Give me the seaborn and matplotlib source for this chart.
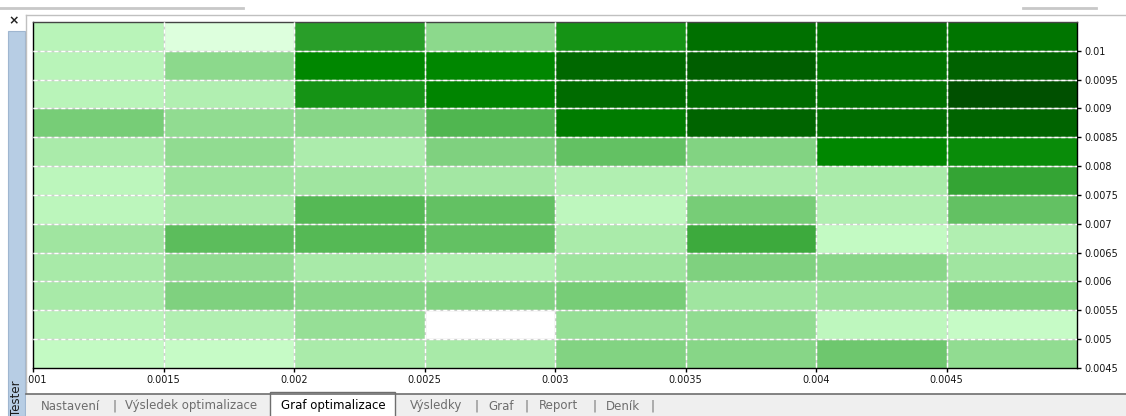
import numpy as np
import pandas as pd
import matplotlib
matplotlib.use("Agg")
import matplotlib.pyplot as plt
import seaborn as sns
from matplotlib.colors import LinearSegmentedColormap
from matplotlib.patches import Rectangle

# ---- data ------------------------------------------------------------------
x_labels = ["0.001", "0.0015", "0.002", "0.0025", "0.003", "0.0035", "0.004", "0.0045"]
y_labels = ["0.01", "0.0095", "0.009", "0.0085", "0.008", "0.0075", "0.007",
            "0.0065", "0.006", "0.0055", "0.005", "0.0045"]   # lower edge of each row, top->bottom

# result intensity of each cell (0 = worst / white, 100 = best / darkest green), top row first
row_0105 = [24, 10, 71, 42, 75, 89, 88, 87]
row_0100 = [24, 42, 80, 80, 92, 95, 88, 94]
row_0095 = [24, 27, 75, 81, 91, 91, 89, 100]
row_0090 = [50, 40, 44, 61, 84, 93, 90, 93]
row_0085 = [30, 40, 29, 47, 56, 46, 80, 78]
row_0080 = [23, 35, 34, 33, 27, 30, 30, 68]
row_0075 = [23, 31, 60, 56, 22, 50, 27, 56]
row_0070 = [34, 58, 60, 56, 30, 66, 20, 27]
row_0065 = [31, 40, 31, 27, 35, 47, 43, 34]
row_0060 = [31, 47, 44, 46, 50, 34, 36, 47]
row_0055 = [24, 27, 38, 0, 38, 40, 22, 19]
row_0050 = [20, 19, 30, 31, 46, 44, 53, 40]

values = [row_0105, row_0100, row_0095, row_0090, row_0085, row_0080,
          row_0075, row_0070, row_0065, row_0060, row_0055, row_0050]
df = pd.DataFrame(values, index=range(len(values)), columns=x_labels)

# MetaTrader-like white -> dark green gradient
cmap = LinearSegmentedColormap.from_list("mt_green", [
    (0.0, "#ffffff"), (0.1, "#dcffdc"), (0.2, "#c3fac3"), (0.3, "#aaebaa"),
    (0.4, "#91dc91"), (0.5, "#78cd78"), (0.6, "#55b955"), (0.7, "#2da02d"),
    (0.8, "#008700"), (0.9, "#006e00"), (1.0, "#005000")])

# ---- figure ----------------------------------------------------------------
fig = plt.figure(figsize=(11.26, 4.16), dpi=100)
fig.patch.set_facecolor("white")
W, H = 1126, 416

def px(x0, y0, w, h):
    return [x0 / W, 1 - (y0 + h) / H, w / W, h / H]

ax = fig.add_axes(px(33, 22, 1044, 346))
sns.heatmap(df, ax=ax, cmap=cmap, vmin=0, vmax=100, cbar=False,
            xticklabels=False, yticklabels=False)

nrows, ncols = df.shape
# dashed grid on the cell borders
ax.hlines(range(1, nrows), 0, ncols, colors="#cfcfcf", lw=1, zorder=3)
ax.hlines(range(1, nrows), 0, ncols, colors="white", lw=1, linestyles=(0, (3, 2)), zorder=4)
ax.vlines(range(1, ncols), 0, nrows, colors="#cfcfcf", lw=1, zorder=3)
ax.vlines(range(1, ncols), 0, nrows, colors="white", lw=1, linestyles=(0, (3, 2)), zorder=4)

ax.set_xticks(range(ncols))
ax.set_xticklabels(x_labels)
ax.yaxis.tick_right()
ax.set_yticks(range(1, nrows + 1))
ax.set_yticklabels(y_labels)
ax.tick_params(axis="both", labelsize=7, colors="black", labelcolor="#151515",
               length=3, width=1, pad=2, direction="out")
ax.tick_params(axis="x", labelrotation=0)
ax.tick_params(axis="y", labelrotation=0)
ax.set_xlabel("")
ax.set_ylabel("")
for side, sp in ax.spines.items():
    sp.set_visible(True)
    sp.set_color("#000000" if side != "top" else "#444444")
    sp.set_linewidth(1)

# ---- window chrome -----------------------------------------------------------
chrome = fig.add_axes([0, 0, 1, 1], zorder=10)
chrome.set_xlim(0, W)
chrome.set_ylim(H, 0)
chrome.axis("off")
chrome.patch.set_alpha(0)

# top separators
chrome.plot([0, 243], [8, 8], color="#c8c8c8", lw=2)
chrome.plot([1023, 1096], [8, 8], color="#c8c8c8", lw=2)
chrome.plot([26, W], [15, 15], color="#c0c0c0", lw=1)
chrome.plot([26, 26], [15, 393], color="#c0c0c0", lw=1)
chrome.text(14, 21, "×", ha="center", va="center", fontsize=9, fontweight="bold", color="#202020")

# left side bar with "Tester"
chrome.add_patch(Rectangle((8, 31), 17, H - 31, facecolor="#b7cde4", edgecolor="#9fb6d0", lw=0.8))
chrome.text(16.5, 398, "Tester", rotation=90, ha="center", va="center", fontsize=8.5, color="#1a1a1a")

# bottom tab bar
chrome.add_patch(Rectangle((26, 394), W - 26, 22, facecolor="#efefef", edgecolor="none"))
chrome.plot([26, W], [394, 394], color="#6e6e6e", lw=1.2)
chrome.add_patch(Rectangle((270, 392), 125, 26, facecolor="white", edgecolor="#6e6e6e", lw=1))
tabs = [("Nastavení", 71, "#6d6d6d"), ("|", 115, "#6d6d6d"),
        ("Výsledek optimalizace", 191, "#6d6d6d"), ("Graf optimalizace", 333, "#000000"),
        ("Výsledky", 436, "#6d6d6d"), ("|", 476, "#6d6d6d"), ("Graf", 501, "#6d6d6d"),
        ("|", 527, "#6d6d6d"), ("Report", 559, "#6d6d6d"), ("|", 594, "#6d6d6d"),
        ("Deník", 623, "#6d6d6d"), ("|", 652, "#6d6d6d")]
for label, xc, col in tabs:
    chrome.text(xc, 406, label, ha="center", va="center", fontsize=8.5, color=col)

fig.savefig("out.png", dpi=100, facecolor=fig.get_facecolor())
